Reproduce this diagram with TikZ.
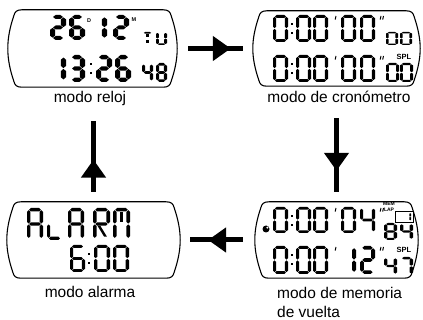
\documentclass[tikz,border=0pt]{standalone}
\usepackage{fontspec}
\setmainfont{Liberation Sans}
\usetikzlibrary{arrows.meta,decorations.markings,fit}

% segments of an LCD cell (10 wide, 20 high); \lcdh = half stroke, \lcdgap = gap
\def\lcdgap{0.3}
\newcommand{\sega}{\fill (\lcdh+\lcdgap,\lcdh)--(2*\lcdh+\lcdgap,0)--(10-2*\lcdh-\lcdgap,0)--(10-\lcdh-\lcdgap,\lcdh)--(10-2*\lcdh-\lcdgap,2*\lcdh)--(2*\lcdh+\lcdgap,2*\lcdh)--cycle;}
\newcommand{\segb}{\fill (10-\lcdh,\lcdh+\lcdgap)--(10,2*\lcdh+\lcdgap)--(10,10-\lcdh-\lcdgap)--(10-\lcdh,10-\lcdgap)--(10-2*\lcdh,10-\lcdh-\lcdgap)--(10-2*\lcdh,2*\lcdh+\lcdgap)--cycle;}
\newcommand{\segc}{\fill (10-\lcdh,10+\lcdgap)--(10,10+\lcdh+\lcdgap)--(10,20-2*\lcdh-\lcdgap)--(10-\lcdh,20-\lcdh-\lcdgap)--(10-2*\lcdh,20-2*\lcdh-\lcdgap)--(10-2*\lcdh,10+\lcdh+\lcdgap)--cycle;}
\newcommand{\segd}{\fill (\lcdh+\lcdgap,20-\lcdh)--(2*\lcdh+\lcdgap,20-2*\lcdh)--(10-2*\lcdh-\lcdgap,20-2*\lcdh)--(10-\lcdh-\lcdgap,20-\lcdh)--(10-2*\lcdh-\lcdgap,20)--(2*\lcdh+\lcdgap,20)--cycle;}
\newcommand{\sege}{\fill (\lcdh,10+\lcdgap)--(2*\lcdh,10+\lcdh+\lcdgap)--(2*\lcdh,20-2*\lcdh-\lcdgap)--(\lcdh,20-\lcdh-\lcdgap)--(0,20-2*\lcdh-\lcdgap)--(0,10+\lcdh+\lcdgap)--cycle;}
\newcommand{\segf}{\fill (\lcdh,\lcdh+\lcdgap)--(2*\lcdh,2*\lcdh+\lcdgap)--(2*\lcdh,10-\lcdh-\lcdgap)--(\lcdh,10-\lcdgap)--(0,10-\lcdh-\lcdgap)--(0,2*\lcdh+\lcdgap)--cycle;}
\newcommand{\segg}{\fill (\lcdh+\lcdgap,10)--(2*\lcdh+\lcdgap,10-\lcdh)--(10-2*\lcdh-\lcdgap,10-\lcdh)--(10-\lcdh-\lcdgap,10)--(10-2*\lcdh-\lcdgap,10+\lcdh)--(2*\lcdh+\lcdgap,10+\lcdh)--cycle;}
\newcommand{\segi}{\fill (5-\lcdh,2*\lcdh+\lcdgap) rectangle (5+\lcdh,10-\lcdh-\lcdgap);}
\newcommand{\segj}{\fill (5-\lcdh,10+\lcdh+\lcdgap) rectangle (5+\lcdh,20-2*\lcdh-\lcdgap);}
\newcommand{\segk}{\fill (2.6,10+\lcdh)--(2.6+1.6*\lcdh,10+\lcdh)--(8.2,20-2*\lcdh)--(8.2-1.6*\lcdh,20-2*\lcdh)--cycle;}

% [half stroke]{x}{y}{width}{height}{segments}
\newcommand{\lcd}[6][1.6]{%
  \begin{scope}[shift={(#2,#3)},xscale=#4/10,yscale=#5/20]
    \def\lcdh{#1}
    \foreach \s in {#6}{\csname seg\s\endcsname}
  \end{scope}}
\newcommand{\lcdcolon}[3]{%
  \fill (#1-1.2,#2+0.3*#3) rectangle ++(2.4,2.4);
  \fill (#1-1.2,#2+0.62*#3) rectangle ++(2.4,2.4);}
\newcommand{\lcdtick}[2]{\draw[line width=1pt] (#1,#2) -- ++(-0.8,3.5);}
% barrel outline round a fitted node
\newcommand{\lcdframe}[1]{%
  \draw[frameline] ([xshift=14pt]#1.north west) -- ([xshift=-14pt]#1.north east)
    .. controls ([xshift=-9pt]#1.north east) and ([shift={(-7pt,-2pt)}]#1.north east) .. ([shift={(-6pt,-6pt)}]#1.north east)
    .. controls ([shift={(-2pt,-18pt)}]#1.north east) and ([yshift=-28pt]#1.north east) .. (#1.east)
    .. controls ([yshift=28pt]#1.south east) and ([shift={(-2pt,18pt)}]#1.south east) .. ([shift={(-6pt,6pt)}]#1.south east)
    .. controls ([shift={(-7pt,2pt)}]#1.south east) and ([xshift=-9pt]#1.south east) .. ([xshift=-14pt]#1.south east)
    -- ([xshift=14pt]#1.south west)
    .. controls ([xshift=9pt]#1.south west) and ([shift={(7pt,2pt)}]#1.south west) .. ([shift={(6pt,6pt)}]#1.south west)
    .. controls ([shift={(2pt,18pt)}]#1.south west) and ([yshift=28pt]#1.south west) .. (#1.west)
    .. controls ([yshift=-28pt]#1.north west) and ([shift={(2pt,-18pt)}]#1.north west) .. ([shift={(6pt,-6pt)}]#1.north west)
    .. controls ([shift={(7pt,-2pt)}]#1.north west) and ([xshift=9pt]#1.north west) .. cycle;}

\tikzset{
  frameline/.style={draw=black,line width=1.1pt},
  lcdtext/.style={font=\fontsize{5.5}{5.5}\selectfont\bfseries,inner sep=0pt},
  lbl/.style={font=\fontsize{15.5}{19}\selectfont,inner sep=0pt},
  flow/.style={line width=5pt},
  flowmark/.style={postaction={decorate},
    decoration={markings,mark=at position #1 with {\arrow{Triangle[length=18pt,width=24pt]}}}},
}

\begin{document}
\begin{tikzpicture}[x=1pt,y=-1pt]
\useasboundingbox (0,0) rectangle (423,320);

% the four displays
\node[fit={(8,10) (177,87)},inner sep=0pt] (reloj) {};
\node[fit={(253,11) (420,86)},inner sep=0pt] (crono) {};
\node[fit={(255,202) (418,278)},inner sep=0pt] (vuelta) {};
\node[fit={(7,202) (180,278)},inner sep=0pt] (alarma) {};
\lcdframe{reloj}
\lcdframe{crono}
\lcdframe{vuelta}
\lcdframe{alarma}

% clock
\lcd{50}{15}{16}{25}{a,b,g,e,d}
\lcd{69}{15}{16}{25}{a,f,g,e,c,d}
\lcd{91}{15}{16}{25}{b,c}
\lcd{113}{15}{16}{25}{a,b,g,e,d}
\node[lcdtext] (dia) at (89,21) {D};
\node[lcdtext] (mes) at (134,20) {M};
\lcd[1.3]{142}{32}{11}{13}{a,i,j}
\lcd[1.3]{156}{32}{11}{13}{b,c,d,e,f}
\lcd{50}{55}{16}{27}{b,c}
\lcd{69}{55}{16}{27}{a,b,g,c,d}
\lcdcolon{91}{55}{27}
\lcd{96}{55}{16}{27}{a,b,g,e,d}
\lcd{115}{55}{16}{27}{a,f,g,e,c,d}
\lcd[1.4]{142}{63}{11}{19}{f,g,b,c}
\lcd[1.4]{156}{63}{11}{19}{a,b,c,d,e,f,g}

% stopwatch
\foreach \y in {15,55}{
  \foreach \x in {273,296,313,341,360}{
    \lcd[1.05]{\x}{\y}{15}{27}{a,b,c,d,e,f}
  }
  \lcdcolon{292}{\y}{27}
  \lcdtick{336}{\y+1}
  \lcdtick{381}{\y+1}
  \lcdtick{383.5}{\y+1}
}
\foreach \x in {386,400}{
  \lcd[1.1]{\x}{32}{12}{13}{a,b,c,d,e,f}
  \lcd[1.1]{\x}{63}{13}{19}{a,b,c,d,e,f}
}
\node[lcdtext,font=\fontsize{7.5}{7.5}\selectfont\bfseries] (spla) at (404,57) {SPL};

% lap memory
\foreach \x in {273,296,313,341}{
  \lcd[1.05]{\x}{207}{15}{26}{a,b,c,d,e,f}
}
\lcd[1.05]{360}{207}{15}{26}{f,g,b,c}
\foreach \x in {273,296,313}{
  \lcd[1.05]{\x}{246}{15}{28}{a,b,c,d,e,f}
}
\lcd[1.3]{341}{246}{15}{28}{b,c}
\lcd[1.3]{360}{246}{15}{28}{a,b,g,e,d}
\foreach \y in {207,246}{
  \lcdcolon{292}{\y}{27}
  \lcdtick{336}{\y+1}
  \lcdtick{381}{\y+1}
  \lcdtick{383.5}{\y+1}
}
\node[lcdtext,font=\fontsize{5}{5}\selectfont\bfseries] (mem) at (389,204) {MEM};
\node[lcdtext,font=\fontsize{5}{5}\selectfont\bfseries] (lap) at (389,210) {LAP};
\draw[line width=0.8pt] (395,211) rectangle (413,222);
\lcd[1.4]{405}{212.5}{6}{8.5}{b,c}
\lcd[1.3]{384}{223}{13}{17}{a,b,c,d,e,f,g}
\lcd[1.3]{400}{223}{13}{17}{f,g,b,c}
\node[lcdtext,font=\fontsize{7.5}{7.5}\selectfont\bfseries] (splb) at (404,250) {SPL};
\lcd[1.3]{384}{257}{13}{18}{f,g,b,c}
\lcd[1.3]{400}{257}{13}{18}{a,b,c}
\fill (266,229) circle (3.5);
\fill[white] (267.4,227.6) circle (1.1);

% alarm
\lcd[1.05]{27}{208}{16}{32}{a,b,c,e,f,g}
\lcd[1.05]{47}{208}{15}{32}{e,d}
\lcd[1.05]{68}{208}{16}{32}{a,b,c,e,f,g}
\lcd[1.05]{93}{208}{17}{32}{a,b,f,g,e,k}
\lcd[1.05]{113}{208}{17}{32}{a,b,c,e,f,i}
\lcd[1.05]{70}{245}{15}{27}{a,f,g,e,c,d}
\lcdcolon{89}{245}{27}
\lcd[1.05]{94}{245}{16}{27}{a,b,c,d,e,f}
\lcd[1.05]{113}{245}{16}{27}{a,b,c,d,e,f}

% names
\node[lbl,anchor=base] (lreloj) at (90,103) {modo reloj};
\node[lbl,anchor=base] (lcrono) at (339,103) {modo de cronómetro};
\node[lbl,anchor=base] (lalarma) at (90,298) {modo alarma};
\node[lbl,anchor=north west,align=left] (lvuelta) at (277,287) {modo de memoria\\de vuelta};

% mode changes
\draw[flow,flowmark=0.78] ([xshift=11pt]reloj.east) -- ([xshift=-10pt]crono.west);
\draw[flow,flowmark=0.714] ([yshift=-15pt]lcrono.south -| vuelta.north) -- ([yshift=10pt]vuelta.north);
\draw[flow,flowmark=0.66] ([xshift=-12pt]vuelta.west) -- ([xshift=10pt]alarma.east);
\draw[flow,flowmark=0.457] ([yshift=10pt]alarma.north) -- ([yshift=-15pt]alarma.north |- lreloj.south);
\end{tikzpicture}
\end{document}
